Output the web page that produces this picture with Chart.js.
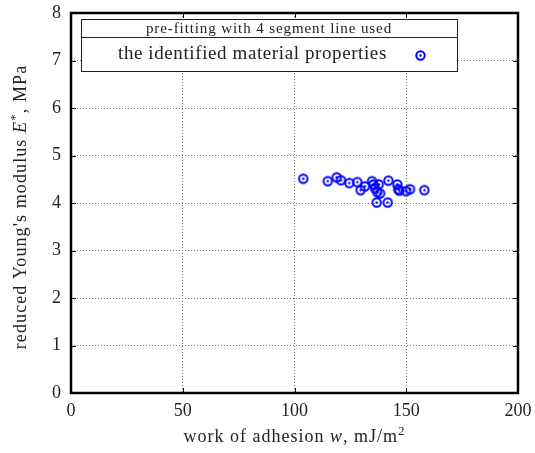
<!DOCTYPE html>
<html>
<head>
<meta charset="utf-8">
<script src="https://cdn.jsdelivr.net/npm/chart.js@4"></script>
<style>
  html,body{margin:0;padding:0;background:#fff;}
  #wrap{width:535px;height:453px;}
</style>
</head>
<body>
<div id="wrap"><canvas id="c" width="535" height="453"></canvas></div>
<script>
/* identified material properties: work of adhesion vs reduced modulus */
const seriesLabel = 'the identified material properties';
const legendTitle = 'pre-fitting with 4 segment line used';
const adhesionW = [103.9,114.9,118.9,120.8,124.5,128.1,129.6,131.5,134.7,135.3,137.7,136.0,137.0,138.3,136.8,141.7,142.0,146.0,146.4,146.9,149.9,151.7,158.1];
const modulusE  = [4.51,4.46,4.54,4.48,4.42,4.44,4.27,4.35,4.46,4.39,4.39,4.31,4.23,4.20,4.01,4.01,4.47,4.39,4.29,4.26,4.25,4.29,4.27];
const xTicks = [0,50,100,150,200];
const yTicks = [0,1,2,3,4,5,6,7,8];
// axis titles as [text, italic, superscript] runs
const xTitle = [['work of adhesion ',0,0],['w',1,0],[', mJ/m',0,0],['2',0,1]];
const yTitle = [["reduced Young's modulus ",0,0],['E',1,0],['*',0,1],[', MPa',0,0]];

const FONT = '"Liberation Serif", "DejaVu Serif", serif';

(function(){
  // ring-with-dot marker
  function makeMarker(){
    const m=document.createElement('canvas');m.width=13;m.height=13;
    const g=m.getContext('2d');g.strokeStyle='#0000ff';g.fillStyle='#0000ff';g.lineWidth=2;
    g.beginPath();g.arc(6.5,6.5,4.2,0,Math.PI*2);g.stroke();
    g.beginPath();g.arc(6.5,6.5,1.2,0,Math.PI*2);g.fill();
    return m;
  }
  const marker=makeMarker();

  // draw runs centred at (cx,cy)
  function richText(ctx,runs,cx,cy,size,sp){
    ctx.letterSpacing=sp+'px';
    const f=(r)=>(r[1]?'italic ':'')+(r[2]?Math.round(size*0.7):size)+'px '+FONT;
    let w=0;runs.forEach(r=>{ctx.font=f(r);w+=ctx.measureText(r[0]).width;});
    let x=cx-w/2;ctx.textAlign='left';ctx.textBaseline='alphabetic';
    const base=cy+size*0.33;
    runs.forEach(r=>{ctx.font=f(r);ctx.fillText(r[0],x,r[2]?base-size*0.4:base);x+=ctx.measureText(r[0]).width;});
    ctx.letterSpacing='0px';
  }

  const frame={id:'frame',
  afterDraw(ch){
    const a=ch.chartArea,ctx=ch.ctx,xs=ch.scales.x,ys=ch.scales.y;
    ctx.save();
    // inner tick marks
    ctx.strokeStyle='#000';ctx.lineWidth=1;
    xTicks.forEach(v=>{const p=Math.round(xs.getPixelForValue(v))+0.5;
      ctx.beginPath();ctx.moveTo(p,a.bottom);ctx.lineTo(p,a.bottom-5);ctx.moveTo(p,a.top);ctx.lineTo(p,a.top+5);ctx.stroke();});
    yTicks.forEach(v=>{const p=Math.round(ys.getPixelForValue(v))+0.5;
      ctx.beginPath();ctx.moveTo(a.left,p);ctx.lineTo(a.left+5,p);ctx.moveTo(a.right,p);ctx.lineTo(a.right-5,p);ctx.stroke();});
    // box
    ctx.lineWidth=2.5;ctx.strokeRect(a.left,a.top,a.right-a.left,a.bottom-a.top);
    // axis titles
    ctx.fillStyle='#222';
    richText(ctx,xTitle,(a.left+a.right)/2,436,18,1);
    ctx.save();ctx.translate(20,(a.top+a.bottom)/2+4);ctx.rotate(-Math.PI/2);
    richText(ctx,yTitle,0,0,18,1.1);ctx.restore();
    // legend
    const lx=a.left+10,ly=a.top+6,lw=376,lh=52,sep=18;
    ctx.fillStyle='#fff';ctx.fillRect(lx,ly,lw,lh);
    ctx.lineWidth=1;ctx.strokeStyle='#222';
    ctx.strokeRect(lx+0.5,ly+0.5,lw,lh);
    ctx.beginPath();ctx.moveTo(lx,ly+sep+0.5);ctx.lineTo(lx+lw,ly+sep+0.5);ctx.stroke();
    ctx.fillStyle='#222';ctx.textAlign='center';ctx.textBaseline='middle';
    ctx.letterSpacing='0.9px';
    ctx.font='15px '+FONT;ctx.fillText(legendTitle,lx+lw/2,ly+sep/2+1);
    ctx.letterSpacing='0.6px';
    ctx.font='19px '+FONT;ctx.textAlign='left';ctx.fillText(seriesLabel,lx+37,ly+sep+(lh-sep)/2);
    ctx.letterSpacing='0px';
    ctx.drawImage(marker,lx+lw-43,ly+sep+(lh-sep)/2-5);
    ctx.restore();
    ctx.letterSpacing='0px';
  }};

  new Chart(document.getElementById('c'),{
    type:'scatter',
    data:{datasets:[{label:seriesLabel,data:adhesionW.map((x,i)=>({x:x,y:modulusE[i]})),
      pointStyle:marker,pointRadius:5,pointHoverRadius:5}]},
    options:{responsive:false,animation:false,
      layout:{padding:{top:13,right:17,left:0,bottom:0}},
      plugins:{legend:{display:false},tooltip:{enabled:false}},
      scales:{
        x:{type:'linear',min:0,max:200,
          afterBuildTicks(s){s.ticks=xTicks.map(v=>({value:v}));},
          afterFit(s){s.height=60;s.paddingLeft=0;s.paddingRight=0;},
          ticks:{color:'#222',font:{family:FONT,size:18},padding:7,maxRotation:0},
          grid:{color:'#777',drawTicks:false,lineWidth:1},
          border:{display:false,dash:[1,2]}},
        y:{type:'linear',min:0,max:8,
          afterBuildTicks(s){s.ticks=yTicks.map(v=>({value:v}));},
          afterFit(s){s.width=71;s.paddingTop=0;s.paddingBottom=0;},
          ticks:{color:'#222',font:{family:FONT,size:18},padding:10},
          grid:{color:'#777',drawTicks:false,lineWidth:1},
          border:{display:false,dash:[1,2]}}
      }},
    plugins:[frame]
  });
})();
</script>
</body>
</html>
